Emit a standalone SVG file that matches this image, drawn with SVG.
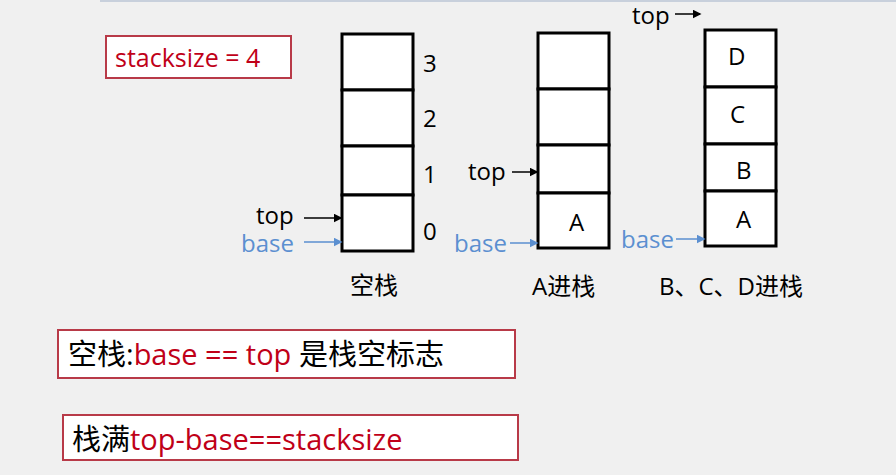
<svg xmlns="http://www.w3.org/2000/svg" width="896" height="475" viewBox="0 0 896 475">
<style>
text{font-family:"Open Sans","Noto Sans CJK SC",sans-serif}
.cell{fill:#fff;stroke:#000;stroke-width:3}
.t{font-size:24px;fill:#000}
.b{font-size:24px;fill:#5b8fd0}
.r{fill:#c00018}
.box{fill:#fff;stroke:#b83a48;stroke-width:2}
.k{stroke:#000;stroke-width:1.5;marker-end:url(#ak)}
.bl{stroke:#5b8fd0;stroke-width:1.5;marker-end:url(#ab)}
</style>
<defs>
<marker id="ak" markerWidth="6" markerHeight="6" refX="5" refY="3" orient="auto"><path d="M0,0L6,3L0,6z" fill="#000"/></marker>
<marker id="ab" markerWidth="6" markerHeight="6" refX="5" refY="3" orient="auto"><path d="M0,0L6,3L0,6z" fill="#5b8fd0"/></marker>
</defs>
<rect width="896" height="475" fill="#f0f0f0"/>
<line x1="100" y1="1" x2="896" y2="1" stroke="#c8d0dc" stroke-width="2"/>
<g id="note1"><rect class="box" x="106" y="36" width="185" height="42"/><text x="115" y="67" font-size="25" class="r">stacksize = 4</text></g>
<g id="stack-empty">
<rect class="cell" x="342" y="34" width="71" height="56"/><rect class="cell" x="342" y="90" width="71" height="56"/><rect class="cell" x="342" y="146" width="71" height="49"/><rect class="cell" x="342" y="195" width="71" height="56"/>
<text class="t" x="423" y="72">3</text><text class="t" x="423" y="127">2</text><text class="t" x="423" y="183">1</text><text class="t" x="423" y="240">0</text>
<text class="t" x="256" y="224">top</text><text class="b" x="241" y="252">base</text>
<text class="t" x="350" y="294">空栈</text>
</g>
<g id="stack-a">
<rect class="cell" x="538" y="33" width="71" height="56"/><rect class="cell" x="538" y="89" width="71" height="56"/><rect class="cell" x="538" y="145" width="71" height="48"/><rect class="cell" x="538" y="193" width="71" height="55"/>
<text class="t" x="569" y="231">A</text>
<text class="t" x="468" y="180">top</text><text class="b" x="454" y="252">base</text>
<text class="t" x="532" y="295">A进栈</text>
</g>
<g id="stack-bcd">
<rect class="cell" x="705" y="30" width="71" height="57"/><rect class="cell" x="705" y="87" width="71" height="57"/><rect class="cell" x="705" y="144" width="71" height="47"/><rect class="cell" x="705" y="191" width="71" height="55"/>
<text class="t" x="728" y="65">D</text><text class="t" x="730" y="123">C</text><text class="t" x="736" y="179">B</text><text class="t" x="736" y="228">A</text>
<text class="t" x="632" y="24">top</text><text class="b" x="621" y="248">base</text>
<text class="t" x="659" y="295">B、C、D进栈</text>
</g>
<g id="connectors">
<line class="k" x1="304" y1="218" x2="341" y2="218"/>
<line class="bl" x1="304" y1="242" x2="341" y2="242"/>
<line class="k" x1="512" y1="172" x2="537" y2="172"/>
<line class="bl" x1="510" y1="243" x2="537" y2="243"/>
<line class="k" x1="675" y1="14" x2="700" y2="14"/>
<line class="bl" x1="676" y1="239" x2="704" y2="239"/>
</g>
<g id="note2"><rect class="box" x="58" y="330" width="457" height="48"/><text x="68" y="365" font-size="29"><tspan fill="#000">空栈:</tspan><tspan class="r">base == top </tspan><tspan fill="#000">是栈空标志</tspan></text></g>
<g id="note3"><rect class="box" x="63" y="415" width="455" height="45"/><text x="72" y="450" font-size="29"><tspan fill="#000">栈满</tspan><tspan class="r">top-base==stacksize</tspan></text></g>
</svg>
